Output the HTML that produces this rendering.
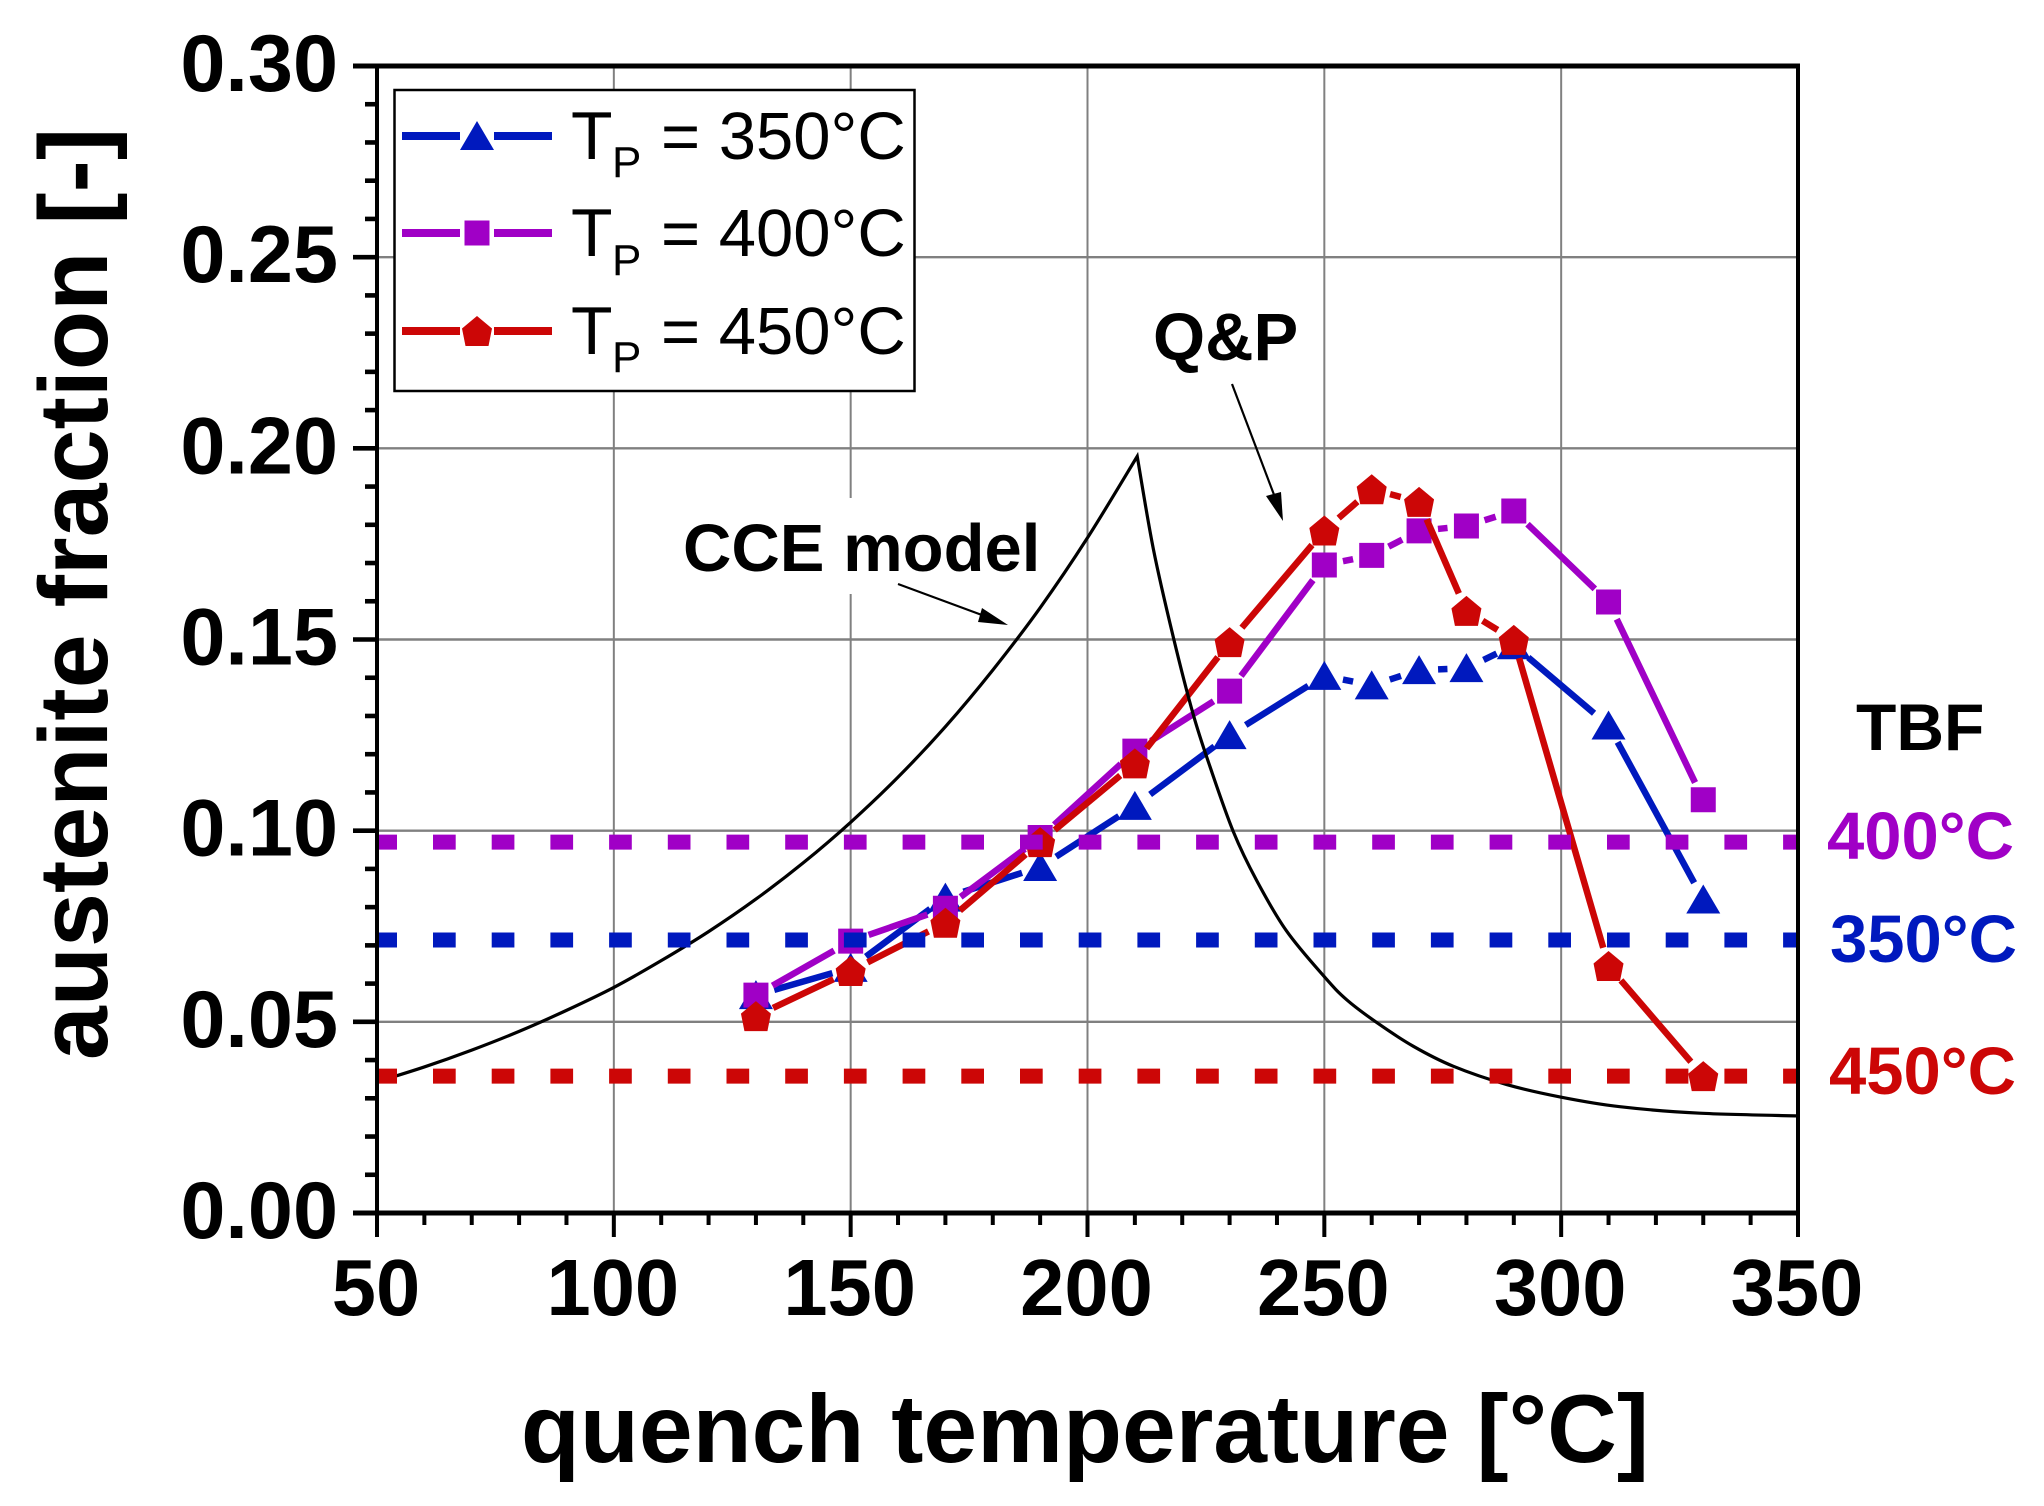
<!DOCTYPE html>
<html lang="en">
<head>
<meta charset="utf-8">
<title>Austenite fraction vs quench temperature</title>
<style>
  html, body { margin: 0; padding: 0; background: #fff; }
  svg { display: block; }
  text { font-family: "Liberation Sans", Arial, sans-serif; fill: #000; }
  .b { font-weight: bold; }
</style>
</head>
<body>
<svg id="chart" xmlns="http://www.w3.org/2000/svg" width="2044" height="1506" viewBox="0 0 2044 1506">
  <rect x="0" y="0" width="2044" height="1506" fill="#fff"/>
  <g id="grid"></g>
  <rect x="675" y="498" width="372" height="96" fill="#fff"/>
  <g id="series"></g>
  <g id="curve"></g>
  <g id="tbf"></g>
  <g id="axes"></g>

  <g>
    <rect x="394.5" y="90" width="520" height="301" fill="#fff" stroke="#000" stroke-width="2.5"/>
    <g id="legend-keys"></g>
    <g>
      <text x="571" y="159" font-size="68">T</text>
      <text x="612" y="177" font-size="44">P</text>
      <text x="661" y="159" font-size="67">= 350°C</text>
    </g>
    <g>
      <text x="571" y="256" font-size="68">T</text>
      <text x="612" y="275" font-size="44">P</text>
      <text x="661" y="256" font-size="67">= 400°C</text>
    </g>
    <g>
      <text x="571" y="354" font-size="68">T</text>
      <text x="612" y="372" font-size="44">P</text>
      <text x="661" y="354" font-size="67">= 450°C</text>
    </g>
  </g>

  <g>
    <text class="b" x="683" y="571" font-size="67">CCE model</text>
    <line x1="898" y1="584" x2="990" y2="618" stroke="#000" stroke-width="2.2"/>
    <polygon points="1008,625 982,608 978,622" fill="#000"/>
    <text class="b" x="1153" y="360" font-size="67">Q&amp;P</text>
    <line x1="1232" y1="384" x2="1276" y2="500" stroke="#000" stroke-width="2.2"/>
    <polygon points="1283,521 1281,492 1266,496" fill="#000"/>
    <text class="b" x="1856" y="750" font-size="66">TBF</text>
    <text class="b" x="1827" y="859" font-size="67" style="fill:#a000c6">400°C</text>
    <text class="b" x="1830" y="962" font-size="67" style="fill:#0019be">350°C</text>
    <text class="b" x="1829" y="1094" font-size="67" style="fill:#cc0606">450°C</text>
  </g>

  <text class="b" x="1085" y="1462" font-size="96.6" text-anchor="middle">quench temperature [°C]</text>
  <text class="b" x="0" y="0" font-size="97" text-anchor="middle" transform="translate(107 594) rotate(-90)">austenite fraction [-]</text>
</svg>

<script>
// ---- chart data ----
const quenchTemps = [130, 150, 170, 190, 210, 230, 250, 260, 270, 280, 290, 310, 330];
const fraction350 = [0.0570, 0.0641, 0.0825, 0.0905, 0.1065, 0.1250, 0.1405, 0.1380, 0.1420, 0.1425, 0.1485, 0.1275, 0.0820];
const fraction400 = [0.0570, 0.0711, 0.0797, 0.0982, 0.1208, 0.1365, 0.1695, 0.1720, 0.1784, 0.1797, 0.1836, 0.1598, 0.1081];
const fraction450 = [0.0515, 0.0633, 0.0759, 0.0970, 0.1176, 0.1493, 0.1785, 0.1893, 0.1860, 0.1575, 0.1499, 0.0646, 0.0358];
const cceTemps = [50, 60, 70, 80, 90, 100, 110, 120, 130, 140, 150, 160, 170, 180, 190, 200, 210.5, 213.9, 218.1, 222.3, 225.9, 230.8, 235.7, 242, 250, 254.7, 261.2, 268.8, 277.2, 288.5, 300, 312.4, 329.3, 350];
const cceValues = [0.0343, 0.0382, 0.0426, 0.0475, 0.0530, 0.0590, 0.0660, 0.0736, 0.0821, 0.0916, 0.1022, 0.1140, 0.1272, 0.1420, 0.1583, 0.1766, 0.1979, 0.1737, 0.1507, 0.1305, 0.1166, 0.0997, 0.0870, 0.0738, 0.0618, 0.0558, 0.0497, 0.0436, 0.0384, 0.0336, 0.0303, 0.0278, 0.0261, 0.0254];
const tbf350 = [0.0714];
const tbf400 = [0.0970];
const tbf450 = [0.0358];
const xMajorTicks = [50, 100, 150, 200, 250, 300, 350];
const yMajorTicks = [0, 0.05, 0.10, 0.15, 0.20, 0.25, 0.30];
const yTickLabels = ['0.00', '0.05', '0.10', '0.15', '0.20', '0.25', '0.30'];

// ---- axis functions ----
const X0 = 377, X1 = 1798, Y0 = 1213, Y1 = 66;
const xScale = v => X0 + (v - 50) * (X1 - X0) / 300;
const yScale = v => Y0 - v * (Y0 - Y1) / 0.30;

const NS = 'http://www.w3.org/2000/svg';
function mk(tag, attrs, parent) {
  const e = document.createElementNS(NS, tag);
  for (const k in attrs) e.setAttribute(k, attrs[k]);
  parent.appendChild(e);
  return e;
}

const BLUE = '#0019be', PURPLE = '#a000c6', RED = '#cc0606', GREY = '#808080';
const gridG = document.getElementById('grid');
const axesG = document.getElementById('axes');

// grid
xMajorTicks.slice(1, -1).forEach(v => {
  const l = mk('line', {x1: xScale(v), x2: xScale(v), y1: Y1, y2: Y0, stroke: GREY, 'stroke-width': 2}, gridG);
  
  
});
yMajorTicks.slice(1, -1).forEach(v => {
  const l = mk('line', {x1: X0, x2: X1, y1: yScale(v), y2: yScale(v), stroke: GREY, 'stroke-width': 2.4}, gridG);
  
  
});

// marker shapes
function markerPoints(kind, cx, cy) {
  let pts;
  if (kind === 'triangle') pts = [[0, -15], [17, 14], [-17, 14]];
  else if (kind === 'square') pts = [[-12.5, -12.5], [12.5, -12.5], [12.5, 12.5], [-12.5, 12.5]];
  else pts = [[0, -15], [15, -2.5], [11.5, 15], [-11.5, 15], [-15, -2.5]];
  return pts.map(p => (cx + p[0]) + ',' + (cy + p[1])).join(' ');
}

// series
const GAP = 19;
function drawSeries(values, color, kind, name) {
  const g = mk('g', {}, document.getElementById('series'));
  
  
  for (let i = 0; i < values.length - 1; i++) {
    const ax = xScale(quenchTemps[i]), ay = yScale(values[i]);
    const bx = xScale(quenchTemps[i + 1]), by = yScale(values[i + 1]);
    const d = Math.hypot(bx - ax, by - ay);
    if (d <= 2 * GAP) continue;
    const ux = (bx - ax) / d, uy = (by - ay) / d;
    const seg = mk('line', {x1: ax + ux * GAP, y1: ay + uy * GAP, x2: bx - ux * GAP, y2: by - uy * GAP, stroke: color, 'stroke-width': 6.5}, g);
    
    
  }
  values.forEach((v, i) => {
    const m = mk('polygon', {points: markerPoints(kind, xScale(quenchTemps[i]), yScale(v)), fill: color}, g);
    
    
  });
}
drawSeries(fraction350, BLUE, 'triangle', 'series-tp-350');
drawSeries(fraction400, PURPLE, 'square', 'series-tp-400');
drawSeries(fraction450, RED, 'pentagon', 'series-tp-450');

// CCE curve: smooth through the read values, with a sharp kink at the peak
function smoothPiece(pts) {
  let d = '';
  for (let i = 0; i < pts.length - 1; i++) {
    const p0 = pts[Math.max(0, i - 1)], p1 = pts[i], p2 = pts[i + 1], p3 = pts[Math.min(pts.length - 1, i + 2)];
    const c1x = p1[0] + (p2[0] - p0[0]) / 6, c1y = p1[1] + (p2[1] - p0[1]) / 6;
    const c2x = p2[0] - (p3[0] - p1[0]) / 6, c2y = p2[1] - (p3[1] - p1[1]) / 6;
    d += ' C' + c1x + ' ' + c1y + ' ' + c2x + ' ' + c2y + ' ' + p2[0] + ' ' + p2[1];
  }
  return d;
}
const ccePoints = cceTemps.map((t, i) => [xScale(t), yScale(cceValues[i])]);
const peakIndex = cceValues.indexOf(Math.max(...cceValues));
const cceD = 'M' + ccePoints[0][0] + ' ' + ccePoints[0][1] +
  smoothPiece(ccePoints.slice(0, peakIndex + 1)) +
  smoothPiece(ccePoints.slice(peakIndex));
const cceLine = mk('path', {d: cceD, fill: 'none', stroke: '#000', 'stroke-width': 3.2, 'stroke-linejoin': 'miter'}, document.getElementById('curve'));



// TBF dashed reference lines
function drawTbf(value, color, name) {
  const l = mk('line', {x1: X0, x2: X1, y1: yScale(value), y2: yScale(value), stroke: color, 'stroke-width': 15, 'stroke-dasharray': '22.7 36', 'stroke-dashoffset': 2.7}, document.getElementById('tbf'));
  
  
}
drawTbf(tbf400[0], PURPLE, 'tbf-line-400');
drawTbf(tbf350[0], BLUE, 'tbf-line-350');
drawTbf(tbf450[0], RED, 'tbf-line-450');

// axes frame
const topAxis = mk('line', {x1: 353, x2: X1 + 2, y1: Y1, y2: Y1, stroke: '#000', 'stroke-width': 5}, axesG);


const bottomAxis = mk('line', {x1: 353, x2: X1 + 2, y1: Y0, y2: Y0, stroke: '#000', 'stroke-width': 5}, axesG);


const leftAxis = mk('line', {x1: X0, x2: X0, y1: Y1, y2: 1237, stroke: '#000', 'stroke-width': 4}, axesG);


const rightAxis = mk('line', {x1: X1, x2: X1, y1: Y1, y2: 1237, stroke: '#000', 'stroke-width': 4}, axesG);



// x ticks
for (let v = 50; v <= 350; v += 10) {
  const major = xMajorTicks.includes(v);
  if (v === 50 || v === 350) continue;
  const t = mk('line', {x1: xScale(v), x2: xScale(v), y1: Y0, y2: major ? 1237 : 1225, stroke: '#000', 'stroke-width': 4}, axesG);
  
  
}
xMajorTicks.forEach(v => {
  const t = mk('text', {x: xScale(v) - 1, y: 1315, 'font-size': 79.5, 'text-anchor': 'middle', 'class': 'b'}, axesG);
  t.textContent = String(v);
  
  
});

// y ticks
for (let k = 1; k < 30; k++) {
  const major = k % 5 === 0;
  const v = k / 100;
  const t = mk('line', {x1: major ? 353 : 365, x2: X0, y1: yScale(v), y2: yScale(v), stroke: '#000', 'stroke-width': 4.6}, axesG);
  
  
}
yMajorTicks.forEach((v, i) => {
  const t = mk('text', {x: 338, y: yScale(v) + 25, 'font-size': 81, 'text-anchor': 'end', 'class': 'b'}, axesG);
  t.textContent = yTickLabels[i];
  
  
});

// legend keys (fixed legend swatches)
function legendKey(cy, color, kind, name) {
  const parent = document.getElementById('legend-keys');
  const left = mk('rect', {x: 402, y: cy - 4, width: 58, height: 8, fill: color}, parent);
  
  
  const right = mk('rect', {x: 494, y: cy - 4, width: 58, height: 8, fill: color}, parent);
  
  
  const m = mk('polygon', {points: markerPoints(kind, 477, cy), fill: color}, parent);
  
  
}
legendKey(136, BLUE, 'triangle', 'legend-key-350');
legendKey(233, PURPLE, 'square', 'legend-key-400');
legendKey(331, RED, 'pentagon', 'legend-key-450');
</script>
</body>
</html>
